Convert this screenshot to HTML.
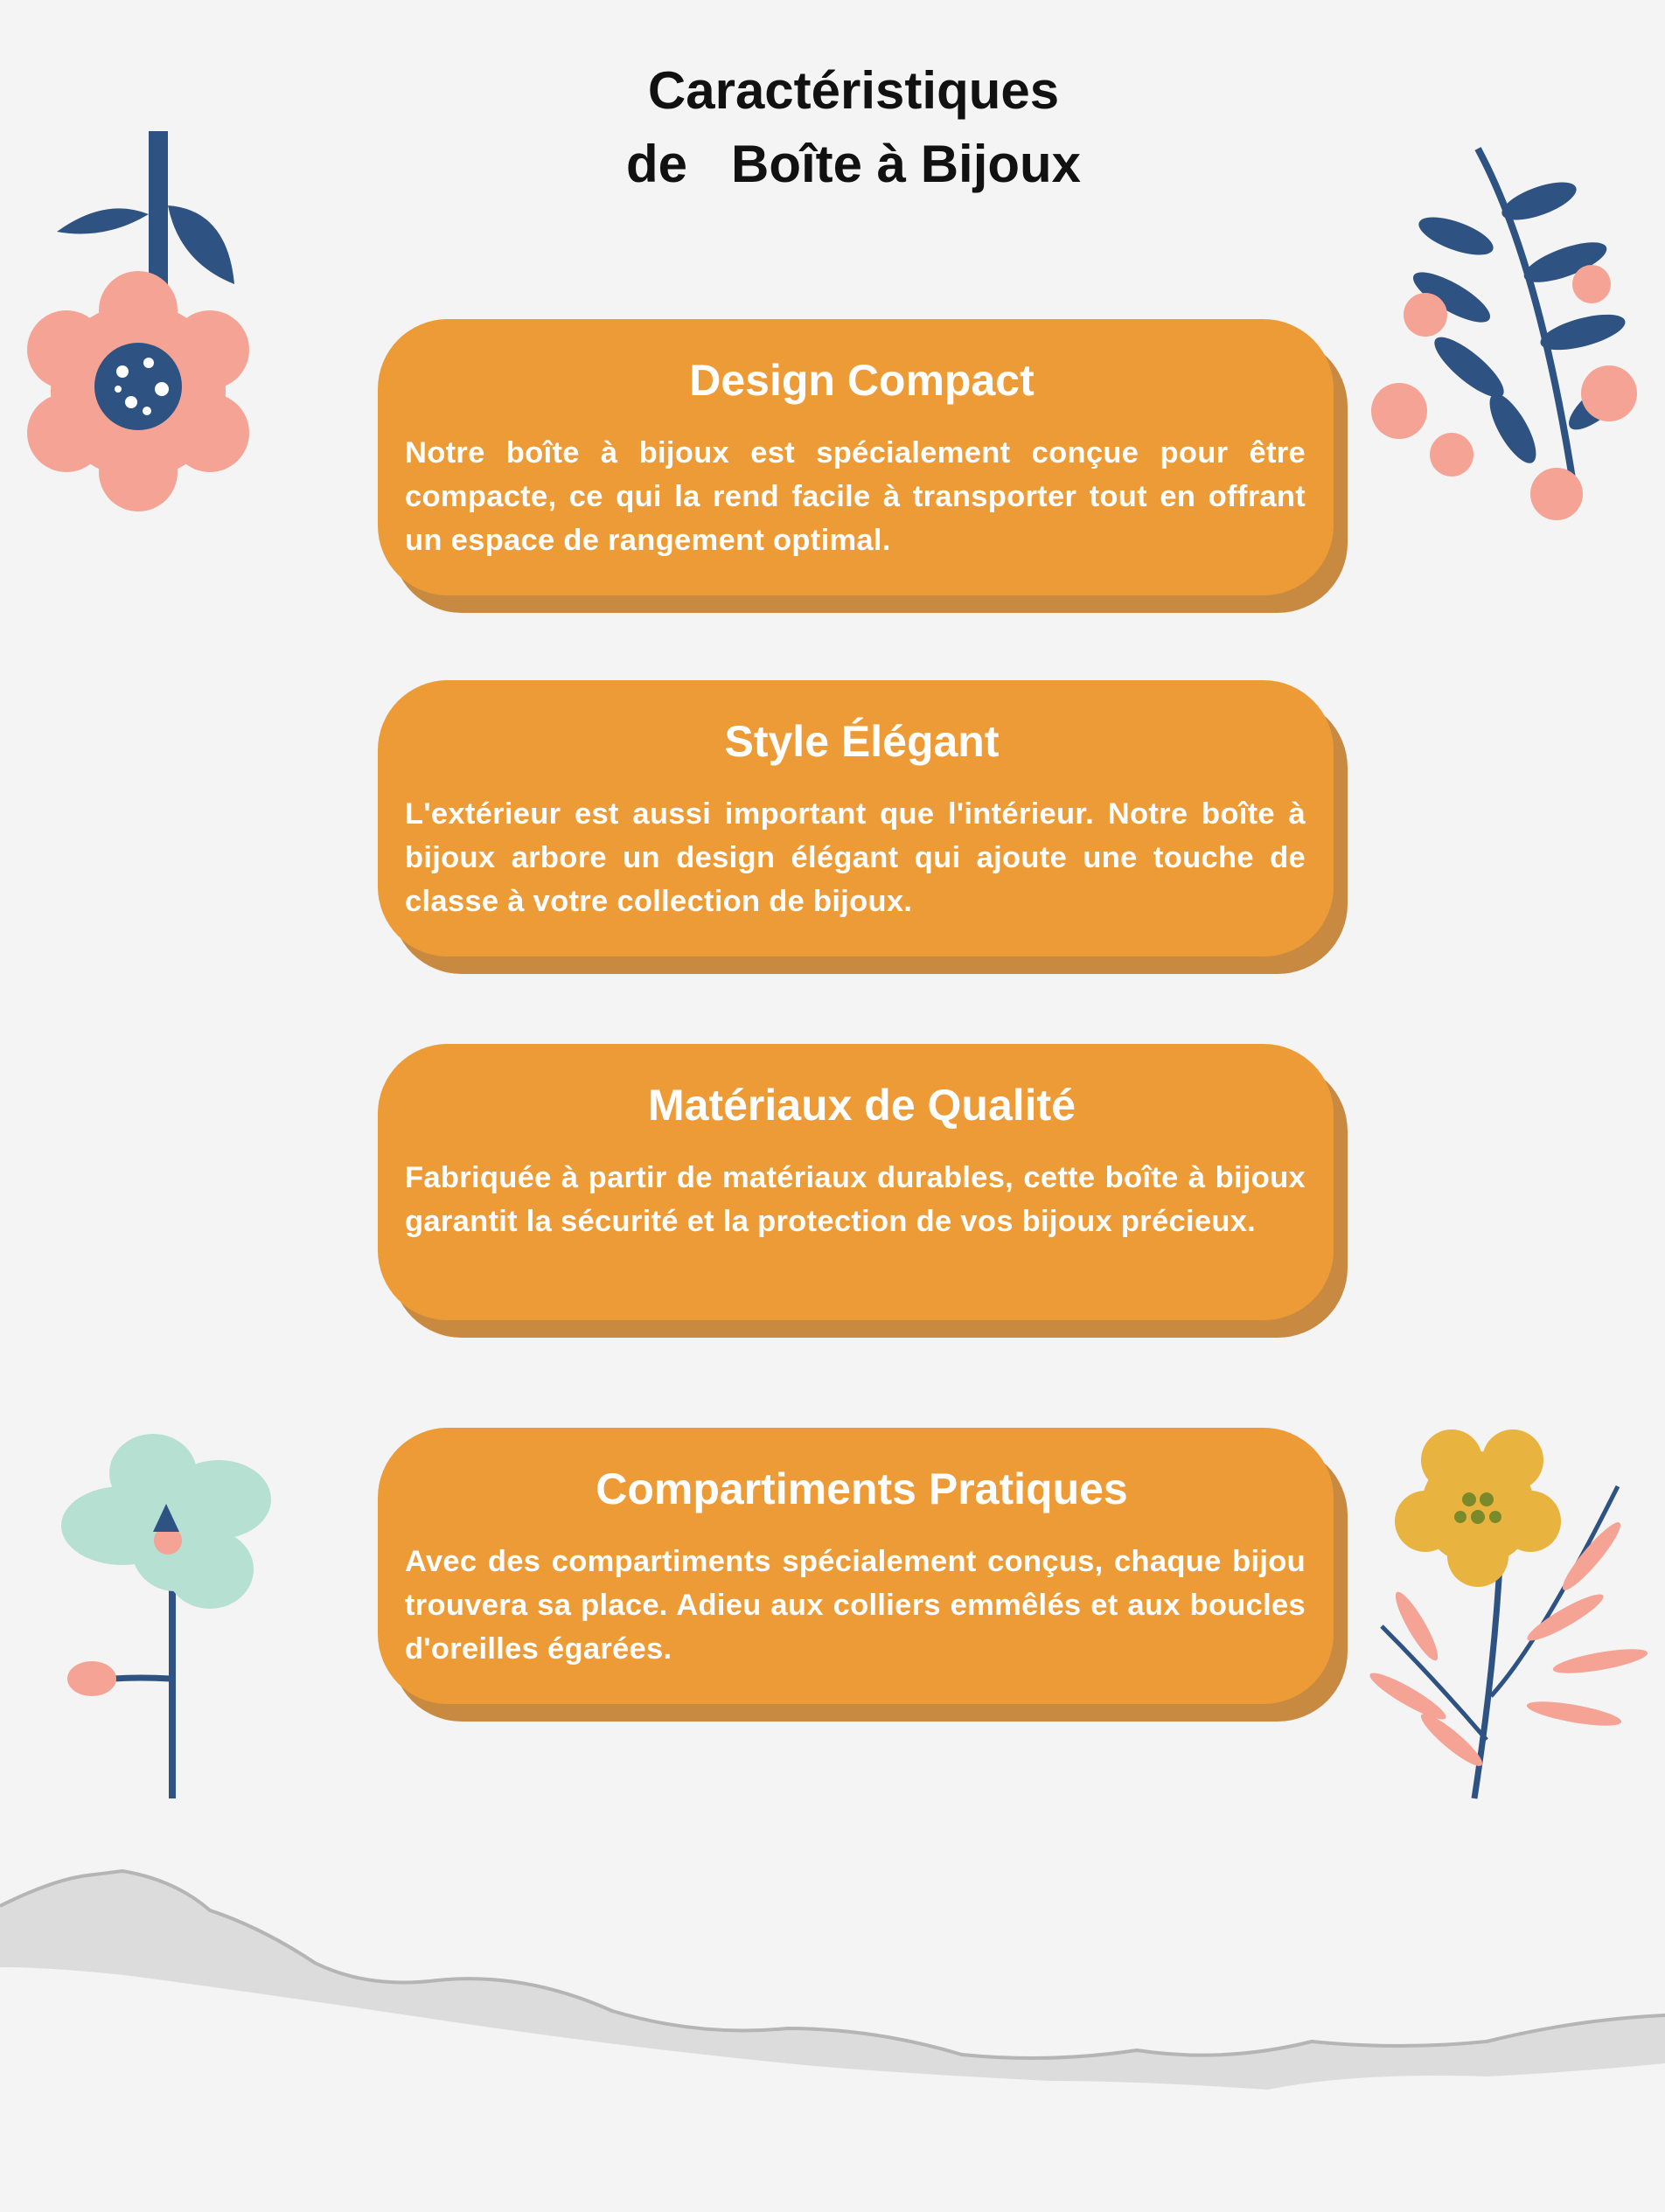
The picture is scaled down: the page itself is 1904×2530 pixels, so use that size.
<!DOCTYPE html>
<html><head><meta charset="utf-8"><style>
html,body{margin:0;padding:0}
body{width:1904px;height:2530px;background:#f4f4f4;position:relative;overflow:hidden;font-family:"Liberation Sans",sans-serif}
.title{position:absolute;left:0;width:1952px;top:62px;text-align:center;font-weight:bold;font-size:60px;line-height:84px;color:#111}
.card{position:absolute;left:432px;width:1093px;height:316px;background:#ed9b37;border-radius:80px;box-shadow:16px 20px 0 #c88a40;color:#fff;box-sizing:border-box;padding:0 32px 0 31px}
.card h2{margin:0;text-align:center;font-size:50px;line-height:60px;padding-top:40px;padding-left:15px}
.card p{margin:28px 0 0;font-size:34.5px;line-height:50px;text-align:justify;font-weight:bold;letter-spacing:0.3px}
</style></head><body>
<div class="title">Caractéristiques<br>de&nbsp;&nbsp; Boîte à Bijoux</div>

<div class="card" style="top:365px"><h2>Design Compact</h2><p>Notre boîte à bijoux est spécialement conçue pour être compacte, ce qui la rend facile à transporter tout en offrant un espace de rangement optimal.</p></div>
<div class="card" style="top:778px"><h2>Style Élégant</h2><p>L'extérieur est aussi important que l'intérieur. Notre boîte à bijoux arbore un design élégant qui ajoute une touche de classe à votre collection de bijoux.</p></div>
<div class="card" style="top:1194px"><h2>Matériaux de Qualité</h2><p>Fabriquée à partir de matériaux durables, cette boîte à bijoux garantit la sécurité et la protection de vos bijoux précieux.</p></div>
<div class="card" style="top:1633px"><h2>Compartiments Pratiques</h2><p>Avec des compartiments spécialement conçus, chaque bijou trouvera sa place. Adieu aux colliers emmêlés et aux boucles d'oreilles égarées.</p></div>

<svg width="1904" height="2530" style="position:absolute;left:0;top:0">
<rect x="170" y="150" width="22" height="180" fill="#2e5281"/>
<path d="M170 245 Q120 225 65 265 Q120 275 170 245Z" fill="#2e5281"/>
<path d="M192 235 Q260 240 268 325 Q205 300 192 235Z" fill="#2e5281"/>
<g fill="#f4a394">
<circle cx="158" cy="447" r="100"/>
<circle cx="158" cy="355" r="45"/><circle cx="240" cy="400" r="45"/><circle cx="240" cy="495" r="45"/>
<circle cx="158" cy="540" r="45"/><circle cx="76" cy="495" r="45"/><circle cx="76" cy="400" r="45"/>
</g>
<circle cx="158" cy="442" r="50" fill="#2e5281"/>
<g fill="#fff"><circle cx="140" cy="425" r="7"/><circle cx="170" cy="415" r="6"/><circle cx="185" cy="445" r="8"/><circle cx="150" cy="460" r="7"/><circle cx="135" cy="445" r="4"/><circle cx="168" cy="470" r="5"/></g>
<path d="M1690 170 Q1760 300 1800 560" stroke="#2e5281" stroke-width="8" fill="none"/>
<g fill="#2e5281">
<ellipse cx="1760" cy="230" rx="45" ry="16" transform="rotate(-20 1760 230)"/>
<ellipse cx="1665" cy="270" rx="45" ry="16" transform="rotate(20 1665 270)"/>
<ellipse cx="1790" cy="300" rx="50" ry="16" transform="rotate(-20 1790 300)"/>
<ellipse cx="1660" cy="340" rx="50" ry="16" transform="rotate(30 1660 340)"/>
<ellipse cx="1810" cy="380" rx="50" ry="16" transform="rotate(-15 1810 380)"/>
<ellipse cx="1680" cy="420" rx="50" ry="16" transform="rotate(40 1680 420)"/>
<ellipse cx="1830" cy="460" rx="45" ry="16" transform="rotate(-40 1830 460)"/>
<ellipse cx="1730" cy="490" rx="45" ry="16" transform="rotate(60 1730 490)"/>
</g>
<g fill="#f4a394">
<circle cx="1630" cy="360" r="25"/><circle cx="1600" cy="470" r="32"/><circle cx="1660" cy="520" r="25"/>
<circle cx="1820" cy="325" r="22"/><circle cx="1840" cy="450" r="32"/><circle cx="1780" cy="565" r="30"/>
</g>
<rect x="193" y="1760" width="8" height="297" fill="#2e5281"/>
<path d="M130 1920 Q160 1918 195 1920" stroke="#2e5281" stroke-width="7" fill="none"/>
<ellipse cx="105" cy="1920" rx="28" ry="20" fill="#f4a394"/>
<g fill="#b5e0d2">
<ellipse cx="175" cy="1685" rx="50" ry="45"/><ellipse cx="250" cy="1715" rx="60" ry="45"/>
<ellipse cx="240" cy="1795" rx="50" ry="45"/><ellipse cx="140" cy="1745" rx="70" ry="45"/>
<ellipse cx="200" cy="1770" rx="50" ry="50"/>
</g>
<circle cx="192" cy="1762" r="16" fill="#f4a394"/>
<path d="M175 1752 L190 1720 L205 1752Z" fill="#2e5281"/>
<path d="M1686 2057 Q1710 1900 1716 1770" stroke="#2e5281" stroke-width="7" fill="none"/>
<path d="M1705 1940 Q1760 1880 1850 1700 M1700 1990 Q1640 1920 1580 1860" stroke="#2e5281" stroke-width="5" fill="none"/>
<g fill="#f4a394">
<ellipse cx="1790" cy="1850" rx="50" ry="10" transform="rotate(-30 1790 1850)"/>
<ellipse cx="1820" cy="1780" rx="50" ry="10" transform="rotate(-50 1820 1780)"/>
<ellipse cx="1830" cy="1900" rx="55" ry="10" transform="rotate(-10 1830 1900)"/>
<ellipse cx="1800" cy="1960" rx="55" ry="10" transform="rotate(10 1800 1960)"/>
<ellipse cx="1620" cy="1860" rx="45" ry="10" transform="rotate(60 1620 1860)"/>
<ellipse cx="1610" cy="1940" rx="50" ry="10" transform="rotate(30 1610 1940)"/>
<ellipse cx="1660" cy="1990" rx="45" ry="10" transform="rotate(40 1660 1990)"/>
</g>
<g fill="#e8b33e">
<circle cx="1690" cy="1725" r="65"/>
<circle cx="1660" cy="1670" r="35"/><circle cx="1730" cy="1670" r="35"/><circle cx="1750" cy="1740" r="35"/>
<circle cx="1690" cy="1780" r="35"/><circle cx="1630" cy="1740" r="35"/>
</g>
<g fill="#7a8a2a"><circle cx="1680" cy="1715" r="8"/><circle cx="1700" cy="1715" r="8"/><circle cx="1690" cy="1735" r="8"/><circle cx="1670" cy="1735" r="7"/><circle cx="1710" cy="1735" r="7"/></g>
<path d="M0 2180 Q60 2150 100 2145 L140 2140 Q200 2150 240 2185 Q300 2205 360 2245 Q420 2275 500 2265 Q600 2255 700 2300 Q800 2330 900 2320 Q1000 2320 1100 2350 Q1200 2360 1300 2345 Q1400 2360 1500 2335 Q1600 2345 1700 2335 Q1800 2310 1904 2305 L1904 2360 Q1800 2370 1700 2375 Q1550 2370 1450 2390 Q1300 2380 1200 2380 Q1000 2370 900 2360 Q700 2340 500 2310 Q300 2280 150 2260 Q60 2250 0 2250Z" fill="#dcdcdc"/>
<path d="M0 2180 Q60 2150 100 2145 L140 2140 Q200 2150 240 2185 Q300 2205 360 2245 Q420 2275 500 2265 Q600 2255 700 2300 Q800 2330 900 2320 Q1000 2320 1100 2350 Q1200 2360 1300 2345 Q1400 2360 1500 2335 Q1600 2345 1700 2335 Q1800 2310 1904 2305" fill="none" stroke="#b5b5b5" stroke-width="4"/>
</svg>
</body></html>
